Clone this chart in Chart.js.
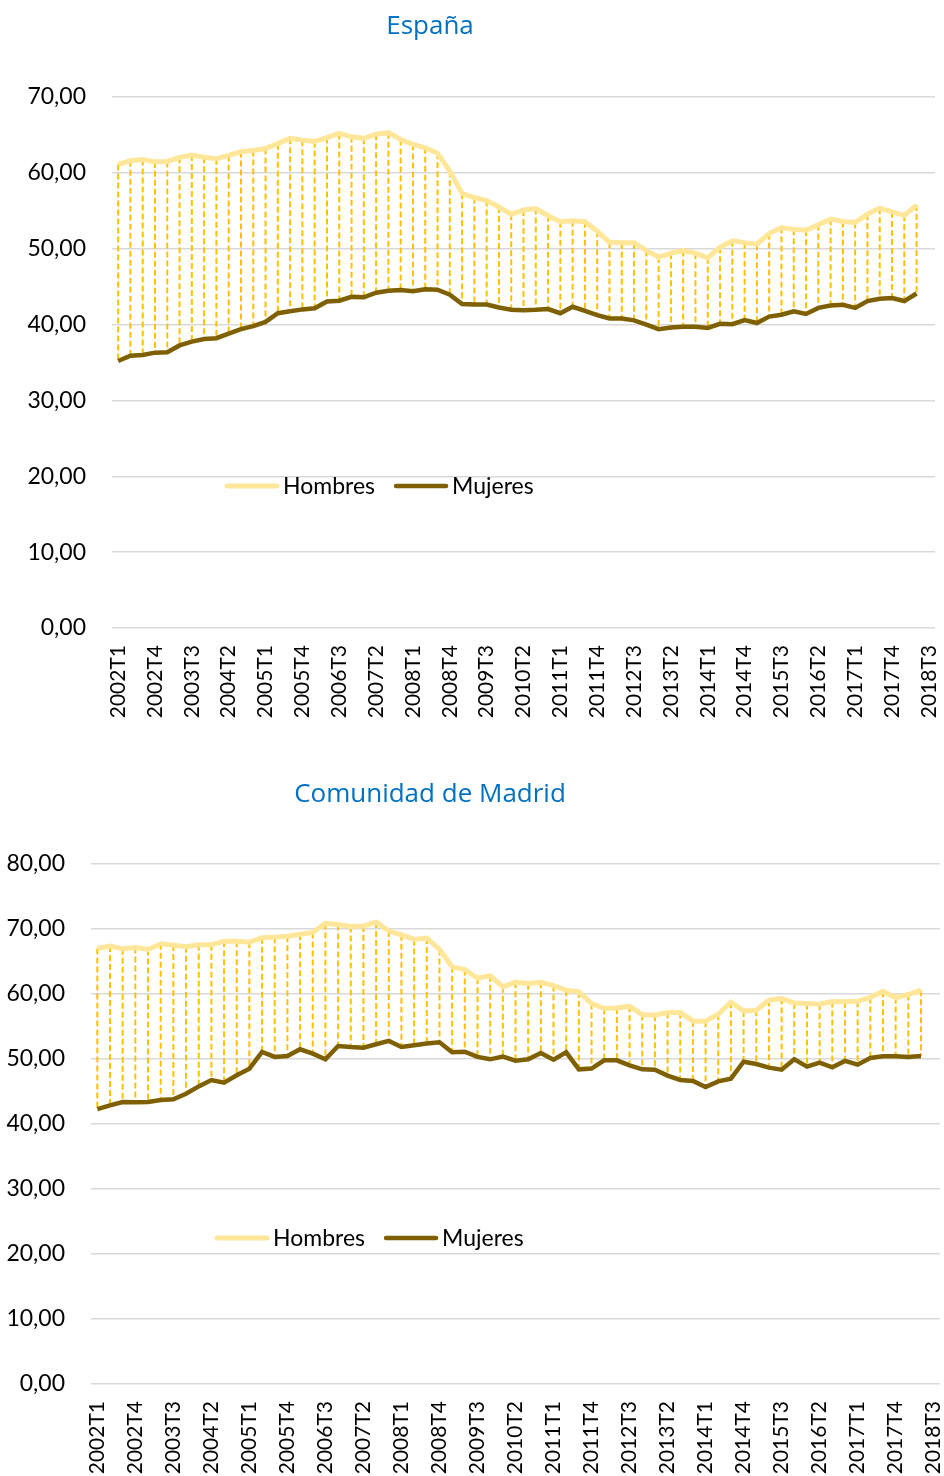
<!DOCTYPE html>
<html lang="es">
<head>
<meta charset="utf-8">
<title>Hombres y Mujeres</title>
<script src="https://cdn.jsdelivr.net/npm/chart.js@4/dist/chart.umd.min.js"></script>
<style>
  body { margin: 0; background: #fff; }
  #caja0 { position: absolute; left: 0; top: 0; width: 944px; height: 760px; }
  #caja1 { position: absolute; left: 0; top: 760px; width: 944px; height: 716px; }
</style>
</head>
<body>
<div id="caja0"><canvas id="chartjs-0"></canvas></div>
<div id="caja1"><canvas id="chartjs-1"></canvas></div>
<script>
"use strict";

/* Categorias: trimestres 2002T1 - 2018T3 (el ultimo sin dato) */
var trimestres = [
  "2002T1", "2002T2", "2002T3", "2002T4", "2003T1", "2003T2", "2003T3", "2003T4",
  "2004T1", "2004T2", "2004T3", "2004T4", "2005T1", "2005T2", "2005T3", "2005T4",
  "2006T1", "2006T2", "2006T3", "2006T4", "2007T1", "2007T2", "2007T3", "2007T4",
  "2008T1", "2008T2", "2008T3", "2008T4", "2009T1", "2009T2", "2009T3", "2009T4",
  "2010T1", "2010T2", "2010T3", "2010T4", "2011T1", "2011T2", "2011T3", "2011T4",
  "2012T1", "2012T2", "2012T3", "2012T4", "2013T1", "2013T2", "2013T3", "2013T4",
  "2014T1", "2014T2", "2014T3", "2014T4", "2015T1", "2015T2", "2015T3", "2015T4",
  "2016T1", "2016T2", "2016T3", "2016T4", "2017T1", "2017T2", "2017T3", "2017T4",
  "2018T1", "2018T2", "2018T3"
];

/* España */
var hombresEspana = [
  61.1, 61.6, 61.75, 61.45, 61.5, 62.05, 62.35, 62.05, 61.85, 62.3,
  62.8, 62.95, 63.2, 63.85, 64.55, 64.3, 64.15, 64.65, 65.2, 64.75,
  64.55, 65.1, 65.3, 64.4, 63.75, 63.3, 62.6, 60.2, 57.3, 56.75,
  56.35, 55.5, 54.55, 55.1, 55.3, 54.35, 53.55, 53.7, 53.55, 52.3,
  50.85, 50.8, 50.8, 49.75, 48.9, 49.4, 49.75, 49.4, 48.8, 50.2,
  51.05, 50.8, 50.6, 52.0, 52.8, 52.55, 52.45, 53.15, 53.9, 53.6,
  53.45, 54.55, 55.35, 54.85, 54.4, 55.75, null
];
var mujeresEspana = [
  35.2, 35.9, 36.0, 36.3, 36.35, 37.25, 37.75, 38.1, 38.2, 38.8,
  39.4, 39.8, 40.35, 41.5, 41.75, 42.0, 42.15, 43.05, 43.15, 43.65,
  43.6, 44.2, 44.45, 44.55, 44.4, 44.65, 44.6, 43.95, 42.7, 42.65,
  42.65, 42.25, 41.95, 41.9, 41.95, 42.05, 41.5, 42.35, 41.8, 41.25,
  40.8, 40.8, 40.55, 40.0, 39.4, 39.6, 39.7, 39.7, 39.55, 40.1,
  40.05, 40.6, 40.2, 41.05, 41.3, 41.75, 41.4, 42.2, 42.5, 42.6,
  42.2, 43.1, 43.4, 43.5, 43.1, 44.1, null
];

/* Comunidad de Madrid */
var hombresMadrid = [
  67.0, 67.37, 66.95, 67.15, 66.85, 67.73, 67.52, 67.26, 67.57, 67.57,
  68.13, 68.13, 67.98, 68.65, 68.75, 68.9, 69.2, 69.47, 70.86, 70.7,
  70.4, 70.45, 71.06, 69.68, 69.11, 68.39, 68.6, 66.85, 64.18, 63.77,
  62.43, 62.8, 61.1, 61.82, 61.6, 61.82, 61.3, 60.59, 60.33, 58.53,
  57.76, 57.86, 58.12, 56.84, 56.73, 57.14, 57.14, 55.86, 55.81, 56.89,
  58.74, 57.4, 57.5, 59.04, 59.3, 58.63, 58.53, 58.43, 58.84, 58.79,
  58.89, 59.46, 60.43, 59.46, 59.92, 60.59, null
];
var mujeresMadrid = [
  42.3, 42.87, 43.38, 43.33, 43.38, 43.69, 43.79, 44.66, 45.79, 46.77,
  46.36, 47.49, 48.52, 51.09, 50.32, 50.47, 51.5, 50.83, 49.95, 52.0,
  51.85, 51.75, 52.27, 52.78, 51.85, 52.11, 52.37, 52.57, 51.03, 51.13,
  50.32, 49.95, 50.37, 49.75, 49.95, 50.93, 49.9, 51.03, 48.41, 48.52,
  49.8, 49.8, 49.03, 48.41, 48.36, 47.44, 46.77, 46.62, 45.69, 46.56,
  46.97, 49.59, 49.23, 48.67, 48.36, 49.95, 48.82, 49.44, 48.72, 49.7,
  49.13, 50.16, 50.42, 50.42, 50.32, 50.47, null
];

var colorHombres = "#FFE699";
var colorMujeres = "#7F6000";

/* lineas de maximos y minimos (discontinuas) entre las dos series */
var lineasAltoBajo = {
  id: "lineasAltoBajo",
  beforeDatasetsDraw: function (chart) {
    var ctx = chart.ctx;
    var arriba = chart.getDatasetMeta(0).data;
    var abajo = chart.getDatasetMeta(1).data;
    ctx.save();
    ctx.strokeStyle = "#FFC000";
    ctx.lineWidth = 2;
    ctx.setLineDash([6, 3]);
    for (var i = 0; i < arriba.length; i++) {
      if (arriba[i].skip || abajo[i].skip) continue;
      ctx.beginPath();
      ctx.moveTo(arriba[i].x, arriba[i].y);
      ctx.lineTo(abajo[i].x, abajo[i].y);
      ctx.stroke();
    }
    ctx.restore();
  }
};

/* titulo y leyenda dibujados a mano */
var rotulos = {
  id: "rotulos",
  afterDraw: function (chart, args, opts) {
    var ctx = chart.ctx;
    ctx.save();
    ctx.textBaseline = "middle";
    ctx.font = "26px 'Open Sans'";
    ctx.fillStyle = "#0070C0";
    ctx.textAlign = "center";
    ctx.fillText(opts.titulo, opts.tituloX, opts.tituloY);

    ctx.font = "23px Lato";
    ctx.textAlign = "left";
    var x = opts.leyendaX;
    var y = opts.leyendaY;
    chart.data.datasets.forEach(function (ds) {
      ctx.strokeStyle = ds.borderColor;
      ctx.lineWidth = ds.borderWidth;
      ctx.lineCap = "round";
      ctx.beginPath();
      ctx.moveTo(x + 2, y);
      ctx.lineTo(x + 52, y);
      ctx.stroke();
      ctx.fillStyle = "#000";
      ctx.fillText(ds.label, x + 58, y + 1);
      x += 58 + ctx.measureText(ds.label).width + 19;
    });
    ctx.restore();
  }
};

function formato(v) {
  return v.toFixed(2).replace(".", ",");
}

function crearGrafico(id, hombres, mujeres, maximo, cfg) {
  var ctx0 = document.getElementById(id);
  return new Chart(ctx0, {
    type: "line",
    data: {
      labels: trimestres,
      datasets: [
        {
          label: "Hombres",
          data: hombres,
          borderColor: colorHombres,
          borderWidth: 5,
          pointRadius: 0,
          tension: 0,
          fill: false
        },
        {
          label: "Mujeres",
          data: mujeres,
          borderColor: colorMujeres,
          borderWidth: 4.5,
          pointRadius: 0,
          tension: 0,
          fill: false
        }
      ]
    },
    options: {
      responsive: true,
      maintainAspectRatio: false,
      animation: false,
      layout: { padding: { top: cfg.arriba, right: cfg.derecha, left: 0, bottom: 0 } },
      plugins: {
        legend: { display: false },
        tooltip: { enabled: false },
        rotulos: cfg.rotulos
      },
      scales: {
        x: {
          offset: true,
          grid: { display: false, drawTicks: false },
          border: { display: false },
          ticks: {
            autoSkip: false,
            minRotation: 90,
            maxRotation: 90,
            padding: 17,
            color: "#000",
            font: { family: "Lato", size: 21 },
            callback: function (v, i) {
              return i % 3 === 0 ? this.getLabelForValue(v) : "";
            }
          },
          afterFit: function (scale) {
            scale.height = cfg.altoX;
            scale.paddingLeft = 0;
            scale.paddingRight = 0;
          }
        },
        y: {
          min: 0,
          max: maximo,
          grid: { color: "#D9D9D9", lineWidth: 1.5, drawTicks: false },
          border: { display: false },
          ticks: {
            stepSize: 10,
            padding: 26,
            color: "#000",
            font: { family: "Lato", size: 23 },
            callback: formato
          },
          afterFit: function (scale) { scale.width = cfg.anchoY; }
        }
      }
    },
    plugins: [lineasAltoBajo, rotulos]
  });
}

crearGrafico("chartjs-0", hombresEspana, mujeresEspana, 70, {
  arriba: 97, derecha: 9, altoX: 132, anchoY: 112,
  rotulos: { titulo: "España", tituloX: 430, tituloY: 27, leyendaX: 225, leyendaY: 486 }
});

crearGrafico("chartjs-1", hombresMadrid, mujeresMadrid, 80, {
  arriba: 104, derecha: 4, altoX: 92, anchoY: 91,
  rotulos: { titulo: "Comunidad de Madrid", tituloX: 430, tituloY: 35, leyendaX: 215, leyendaY: 478 }
});
</script>
</body>
</html>
